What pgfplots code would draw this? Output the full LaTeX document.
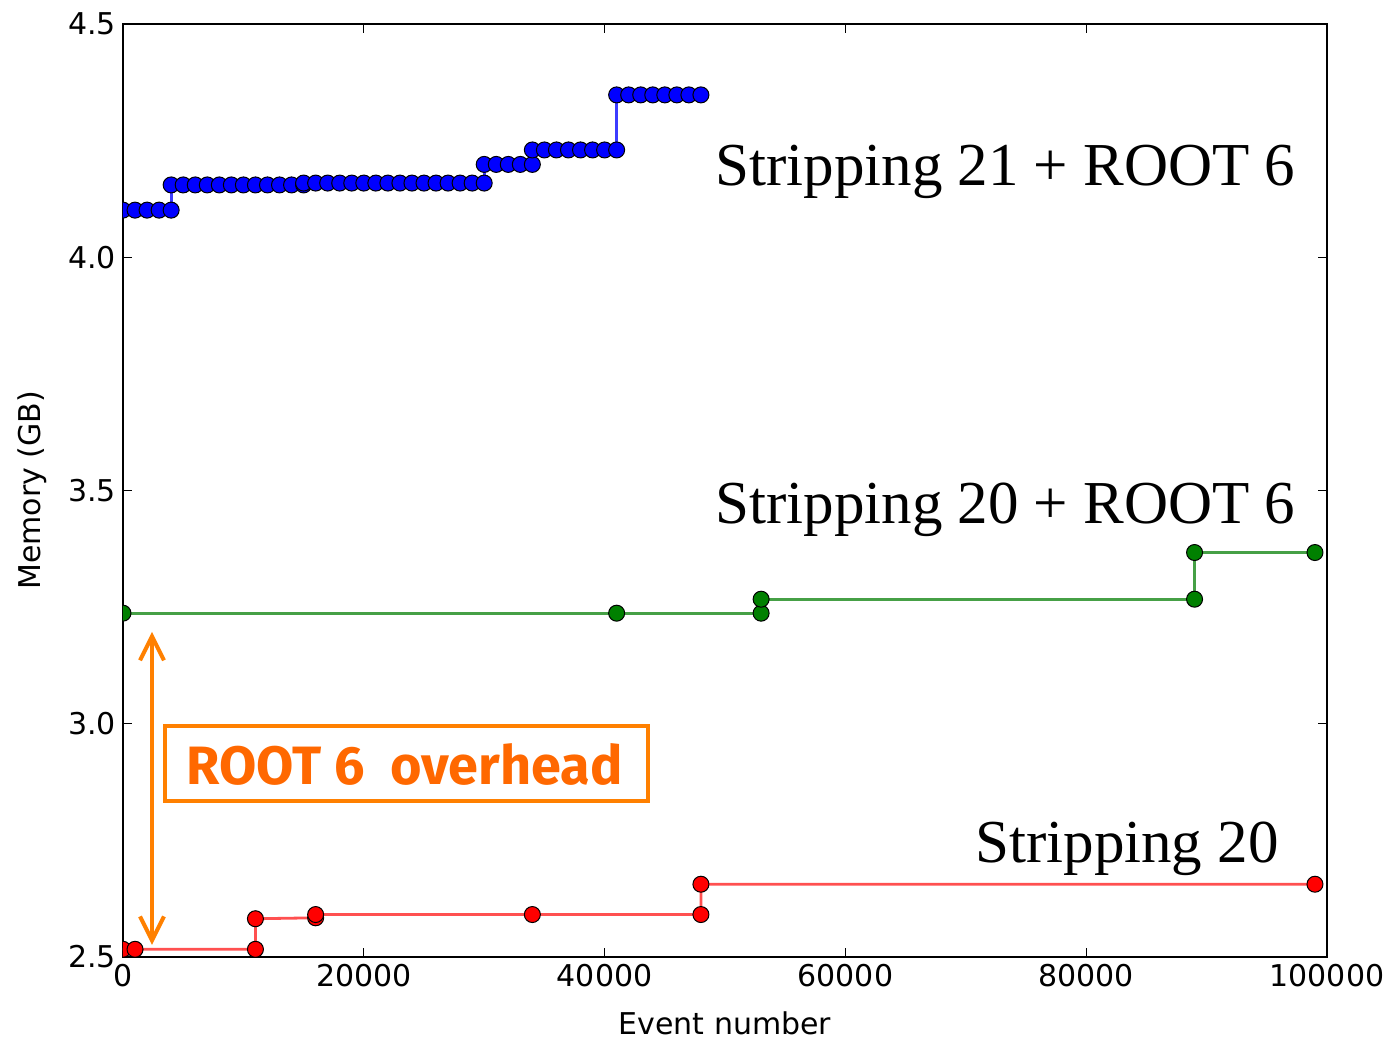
\documentclass[border=0pt]{standalone}
\usepackage{fontspec}
\setmainfont{Liberation Serif}
\newfontfamily\dejavu{DejaVu Sans}
\newfontfamily\fira{Fira Sans}
\usepackage{pgfplots}
\pgfplotsset{compat=1.18}
\usetikzlibrary{arrows.meta}
\definecolor{mblue}{RGB}{0,0,255}
\definecolor{lblue}{RGB}{60,60,255}
\definecolor{mred}{RGB}{255,0,0}
\definecolor{lred}{RGB}{255,80,80}
\definecolor{mgreen}{RGB}{0,128,0}
\definecolor{lgreen}{RGB}{70,160,70}
\definecolor{orangeA}{RGB}{255,128,0}
\definecolor{orangeT}{RGB}{255,104,0}
\begin{document}
\begin{tikzpicture}
\begin{axis}[
  scale only axis, width=602pt, height=466.5pt,
  xmin=0, xmax=100000, ymin=2.5, ymax=4.5,
  clip marker paths=true,
  xtick={0,20000,40000,60000,80000,100000},
  xticklabels={0,20000,40000,60000,80000,100000},
  ytick={2.5,3.0,3.5,4.0,4.5},
  yticklabels={2.5,3.0,3.5,4.0,4.5},
  scaled x ticks=false, scaled y ticks=false,
  tick label style={font=\dejavu\fontsize{15}{18}\selectfont},
  label style={font=\dejavu\fontsize{15}{18}\selectfont},
  xlabel={Event number}, ylabel={Memory (GB)},
  x label style={at={(rel axis cs:0.5,-0.0707)}, anchor=center},
  y label style={at={(rel axis cs:-0.0756,0.5)}, anchor=center},
  major tick length=4.5pt,
  tick style={black, line width=0.6pt},
  axis line style={line width=1.1pt},
  every axis plot/.append style={line width=1.4pt},
]
\addplot[color=lblue, mark=*, mark size=4pt, mark options={fill=mblue, draw=black, line width=0.5pt}] coordinates {
(0,4.101)(1000,4.101)(2000,4.101)(3000,4.101)(4000,4.101)
(4000,4.155)(5000,4.155)(6000,4.155)(7000,4.155)(8000,4.155)(9000,4.155)(10000,4.155)(11000,4.155)(12000,4.155)(13000,4.155)(14000,4.155)(15000,4.155)
(15000,4.159)(16000,4.159)(17000,4.159)(18000,4.159)(19000,4.159)(20000,4.159)(21000,4.159)(22000,4.159)(23000,4.159)(24000,4.159)(25000,4.159)(26000,4.159)(27000,4.159)(28000,4.159)(29000,4.159)(30000,4.159)
(30000,4.199)(31000,4.199)(32000,4.199)(33000,4.199)(34000,4.199)
(34000,4.230)(35000,4.230)(36000,4.230)(37000,4.230)(38000,4.230)(39000,4.230)(40000,4.230)(41000,4.230)
(41000,4.348)(42000,4.348)(43000,4.348)(44000,4.348)(45000,4.348)(46000,4.348)(47000,4.348)(48000,4.348)
};
\addplot[color=lgreen, mark=*, mark size=4pt, mark options={fill=mgreen, draw=black, line width=0.5pt}] coordinates {
(0,3.237)(41000,3.237)(53000,3.237)(53000,3.267)(89000,3.267)(89000,3.367)(99000,3.367)
};
\addplot[color=lred, mark=*, mark size=4pt, mark options={fill=mred, draw=black, line width=0.5pt}] coordinates {
(0,2.5165)(1000,2.5165)(11000,2.5165)(11000,2.582)(16000,2.584)(16000,2.591)(34000,2.591)(48000,2.591)(48000,2.656)(99000,2.656)
};
\draw[orangeA, line width=2pt] (axis cs:3500,2.995) rectangle (axis cs:43600,2.834);
\node[text=orangeT, font=\fira\bfseries\fontsize{27}{27}\selectfont, anchor=center] at (axis cs:23400,2.912) {ROOT 6\ \ overhead};
\draw[orangeA, line width=2pt, {Straight Barb[length=12pt,width=12pt]}-{Straight Barb[length=12pt,width=12pt]}] (axis cs:2409,3.197) -- (axis cs:2409,2.526);
\node[anchor=base west, inner sep=0pt, font=\fontsize{30.5}{31}\selectfont] at (axis cs:49170,4.153) {Stripping 21 + ROOT 6};
\node[anchor=base west, inner sep=0pt, font=\fontsize{30.5}{31}\selectfont] at (axis cs:49170,3.430) {Stripping 20 + ROOT 6};
\node[anchor=base west, inner sep=0pt, font=\fontsize{30.5}{31}\selectfont] at (axis cs:70760,2.7015) {Stripping 20};
\coordinate (bbl) at (rel axis cs:-0.10216,-0.09003);
\coordinate (btr) at (rel axis cs:1.05731,1.02572);
\end{axis}
\pgfresetboundingbox
\useasboundingbox (bbl) rectangle (btr);
\end{tikzpicture}
\end{document}
